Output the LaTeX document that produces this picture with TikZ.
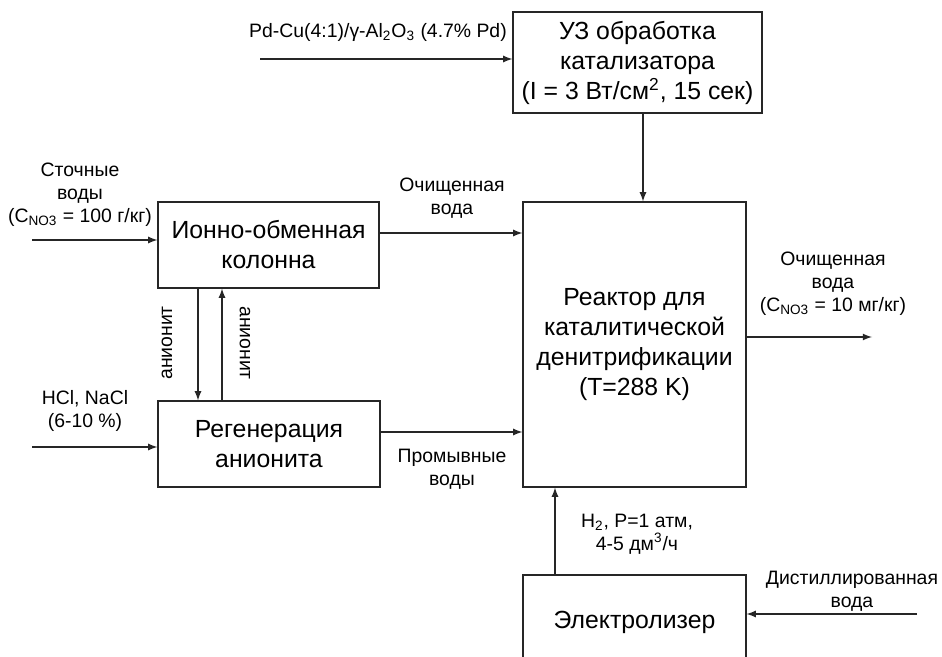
\documentclass[tikz,border=0pt]{standalone}
\usepackage{fontspec}
\setmainfont{Liberation Sans}
\usetikzlibrary{arrows}

\tikzset{
  blok/.style={draw=black!85,line width=0.6pt,rectangle,inner sep=0pt,align=center,
    font=\fontsize{12.4}{15}\selectfont},
  flow/.style={->,>=latex,line width=0.6pt,draw=black!85},
  lbl/.style={align=center,inner sep=0pt,font=\fontsize{9.7}{11.5}\selectfont},
}

\begin{document}
\begin{tikzpicture}[x=0.5pt,y=-0.5pt]
\useasboundingbox (0,0) rectangle (942,657);
\clip (0,0) rectangle (942,657);

% apparatus
\node (UZ) at (637.5,62.5)[blok,minimum width=124.5pt,minimum height=50.5pt] {УЗ обработка\\катализатора\\(I = 3 Вт/см\textsuperscript{2}, 15 сек)};
\node (Ion) at (268.5,245)[blok,minimum width=110.5pt,minimum height=43pt] {Ионно-обменная\\колонна};
\node (Reg) at (269,444)[blok,minimum width=111pt,minimum height=43pt] {Регенерация\\анионита};
\node (Reak) at (634.5,344.5)[blok,minimum width=111.5pt,minimum height=142.5pt] {Реактор для\\каталитической\\денитрификации\\(T=288 K)};
\node (Elz) at (634.5,622)[blok,minimum width=111.5pt,minimum height=47pt] {Электролизер};

% free ends
\coordinate (Pd) at (260,59);
\coordinate (Stok) at (32,240);
\coordinate (Hcl) at (32,447);
\coordinate (Out) at (872,337);
\coordinate (Dist) at (917,614);

% flows
\draw[flow] (Pd) -- (Pd -| UZ.west);
\draw[flow] ([xshift=2.75pt]UZ.south) -- ([xshift=2.75pt]UZ.south |- Reak.north);
\draw[flow] (Stok) -- (Stok -| Ion.west);
\draw[flow] (Hcl) -- (Hcl -| Reg.west);
\draw[flow] ([yshift=6pt]Ion.east) -- ([yshift=6pt]Ion.east -| Reak.west);
\draw[flow] ([yshift=6pt]Reg.east) -- ([yshift=6pt]Reg.east -| Reak.west);
\draw[flow] ([xshift=-35.25pt]Ion.south) -- ([xshift=-35.25pt]Ion.south |- Reg.north);
\draw[flow] ([xshift=-23.5pt]Reg.north) -- ([xshift=-23.5pt]Reg.north |- Ion.south);
\draw[flow] (Out -| Reak.east) -- (Out);
\draw[flow] ([xshift=-39.75pt]Elz.north) -- ([xshift=-39.75pt]Elz.north |- Reak.south);
\draw[flow] (Dist) -- (Dist -| Elz.east);

% labels
\node (LPd) at (378,32)[lbl] {Pd-Cu(4:1)/γ-Al\textsubscript{2}O\textsubscript{3} (4.7\% Pd)};
\node (LStok) at (80,195)[lbl] {Сточные\\воды\\(C\textsubscript{NO3} = 100 г/кг)};
\node (LHcl) at (85,411)[lbl] {HCl, NaCl\\(6-10 \%)};
\node (LOch) at (452,198)[lbl] {Очищенная\\вода};
\node (LProm) at (452,469)[lbl] {Промывные\\воды};
\node (LAn1) at (167,343)[lbl,rotate=90] {анионит};
\node (LAn2) at (245,343)[lbl,rotate=-90] {анионит};
\node (LOut) at (833,283.5)[lbl] {Очищенная\\вода\\(C\textsubscript{NO3} = 10 мг/кг)};
\node (LH2) at (637,534)[lbl] {H\textsubscript{2}, P=1 атм,\\4-5 дм\textsuperscript{3}/ч};
\node (LDist) at (852,591)[lbl] {Дистиллированная\\вода};
\end{tikzpicture}
\end{document}
